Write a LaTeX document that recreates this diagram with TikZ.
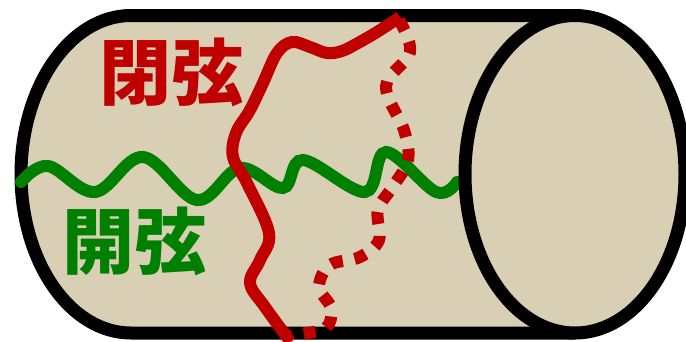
\documentclass[tikz,border=0pt]{standalone}
\usepackage{fontspec}
\newfontfamily\cjk{Noto Sans CJK JP}
\definecolor{tube}{RGB}{217,207,181}
\definecolor{closedred}{RGB}{192,0,0}
\definecolor{opengreen}{RGB}{0,128,0}
\begin{document}
\begin{tikzpicture}[x=1pt,y=-1pt,
  outline/.style={line width=13pt,draw=black},
  openstring/.style={line width=12pt,draw=opengreen,line cap=round},
  frontloop/.style={line width=12pt,draw=closedred},
  backloop/.style={line width=12pt,draw=closedred,dash pattern=on 12pt off 12pt},
  label/.style={inner sep=0pt,font=\cjk\bfseries\fontsize{72}{72}\selectfont}]
\useasboundingbox (0,0) rectangle (686,341);
% cylinder body: left half-ellipse, top and bottom edges
\path[fill=tube] (575,15.5) -- (131,15.5)
  arc[start angle=-90,end angle=-270,x radius=110,y radius=158.75] -- (575,333) -- cycle;
\draw[outline] (575,15.5) -- (131,15.5)
  arc[start angle=-90,end angle=-270,x radius=110,y radius=158.75] -- (575,333);
% open string
\draw[openstring] plot[smooth,tension=0.6] coordinates {
  (21,182) (48,166) (95,192) (143,157) (197,200) (240,168) (283,188)
  (303,160) (365,192) (386,152) (436,192) (457,182)};
% closed string, back half
\draw[backloop] plot[smooth,tension=0.6] coordinates {
  (399,20) (410,52) (386,86) (404,130) (408,160) (394,185) (378,210)
  (379,240) (360,257) (330,265) (319,287) (331,308) (326,328) (300,334) (287,336)};
% closed string, front half
\draw[frontloop] plot[smooth,tension=0.6] coordinates {
  (290,341) (265,307) (250,283) (260,260) (269,233) (247,183) (233,157)
  (236,133) (250,110) (263,83) (277,53) (292,42) (310,47) (327,53)
  (342,51) (358,43) (377,32) (400,17)};
% end of the cylinder
\draw[outline,fill=tube] (575,174.25) ellipse[x radius=110,y radius=158.75];
% labels
\node[label,text=closedred] (closed) at (171,72) {閉弦};
\node[label,text=opengreen] (open) at (134,241) {開弦};
\end{tikzpicture}
\end{document}
